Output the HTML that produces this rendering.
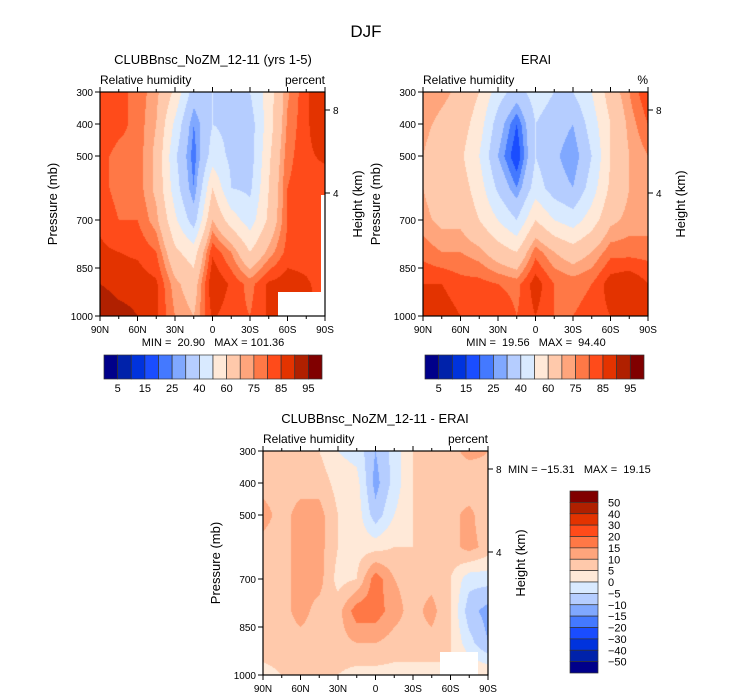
<!DOCTYPE html>
<html><head><meta charset="utf-8">
<style>
body{margin:0;background:#fff;}
#wrap{position:relative;width:733px;height:699px;overflow:hidden;font-family:"Liberation Sans",sans-serif;}
text{white-space:pre;}
</style></head>
<body><div id="wrap">
<svg id="svg" width="733" height="699" xmlns="http://www.w3.org/2000/svg"></svg>
</div>
<script>
// ===== data =====
const lats = [90,75,60,45,30,15,0,-15,-30,-45,-60,-75,-90];
const levels = [300,400,500,600,700,800,900,1000];
const modelRH = [
 [85,82,78,72,58,35,40,40,40,55,74,84,90],
 [85,82,78,70,48,25,40,38,35,55,76,84,90],
 [82,78,78,68,42,22,45,38,35,58,78,84,86],
 [82,78,78,68,45,25,60,40,38,60,80,84,82],
 [84,80,80,72,52,35,70,55,45,62,80,82,80],
 [86,85,84,80,62,55,84,75,60,72,82,82,80],
 [90,88,88,86,72,65,90,84,78,86,88,86,82],
 [95,92,90,86,75,70,86,82,80,86,88,86,86]];
const eraRH = [
 [75,72,68,60,45,35,45,40,40,50,65,75,85],
 [72,68,65,55,35,20,40,35,30,45,60,72,80],
 [70,65,62,50,30,15,40,32,25,40,60,70,75],
 [70,65,65,55,38,25,45,35,30,45,62,70,72],
 [72,68,68,60,50,40,60,50,45,55,68,72,72],
 [78,75,75,72,65,60,78,70,65,70,78,78,78],
 [85,85,82,82,80,78,88,80,78,80,88,90,85],
 [88,88,85,85,85,80,85,80,80,82,85,85,85]];
const diffRH = [
 [8,10,8,5,0,-2,-10,-3,5,8,8,12,10],
 [8,8,8,8,3,2,-12,-3,5,8,8,5,8],
 [12,8,12,12,5,3,-8,0,5,8,8,12,5],
 [8,8,12,12,5,3,3,5,5,8,8,12,8],
 [8,8,12,12,3,5,18,10,8,8,5,-3,-3],
 [8,8,12,8,8,18,18,12,8,12,5,-8,-12],
 [8,8,8,8,8,10,10,8,8,8,5,-3,-10],
 [3,5,5,5,5,3,3,3,3,3,5,5,5]];
const rhLevels = [5,10,15,20,25,30,40,50,60,70,75,80,85,90,95];
const diffLevels = [-50,-40,-30,-20,-15,-10,-5,0,5,10,15,20,30,40,50];
const rhTickLabels = ["5","15","25","40","60","75","85","95"];
const diffTickLabels = ["50","40","30","20","15","10","5","0","\u22125","\u221210","\u221215","\u221220","\u221230","\u221240","\u221250"];
const colors = ["#00008a","#0022aa","#0033dd","#1a4dff","#4479ff","#80a8ff","#b5cdff","#d9eaff","#ffe9d8","#ffc9ab","#ffa57c","#ff7846","#ff4b1a","#e33300","#b02000","#800000"];
const presTicks = [300,400,500,700,850,1000];
const latTicks = [90,60,30,0,-30,-60,-90];
const latNames = ["90N","60N","30N","0","30S","60S","90S"];

const svg = document.getElementById('svg');
const NS = 'http://www.w3.org/2000/svg';
function mk(tag, attrs, parent){const e=document.createElementNS(NS,tag);for(const k in attrs)e.setAttribute(k,attrs[k]);(parent||svg).appendChild(e);return e;}
function txt(x,y,s,size,anchor,name,rot){
  const t=mk('text',{x:x,y:y,'font-size':size,'text-anchor':anchor||'start',fill:'#000','font-family':'Liberation Sans, sans-serif'});
  if(rot) t.setAttribute('transform','rotate(-90 '+x+' '+y+')');
  t.textContent=s;
  
  
  return t;
}
function colorFor(v, lv){let i=0;while(i<lv.length && v>=lv[i]) i++;return colors[i];}

function panel(px,py,data,lv,name,mask,hasPct){
  const W=225,H=224;
  const xs = lat => px + (90-lat)/180*W;
  const ys = p => py + (p-300)/700*H;
  const g = mk('g',{});
  
  
  const fo = mk('foreignObject',{x:px,y:py,width:W,height:H},g);
  const cv = document.createElement('canvas'); cv.width=W; cv.height=H;
  
  
  fo.appendChild(cv);
  const ctx = cv.getContext('2d');
  for(let j=0;j<H;j++){
    const p = 300 + (j+0.5)/H*700;
    let r = 0; while(r<levels.length-2 && p>levels[r+1]) r++;
    const fy = (p-levels[r])/(levels[r+1]-levels[r]);
    for(let i=0;i<W;i++){
      const lat = 90 - (i+0.5)/W*180;
      let c = 0; while(c<lats.length-2 && lat<lats[c+1]) c++;
      const fx = (lats[c]-lat)/(lats[c]-lats[c+1]);
      const v = (data[r][c]*(1-fx)+data[r][c+1]*fx)*(1-fy)+(data[r+1][c]*(1-fx)+data[r+1][c+1]*fx)*fy;
      ctx.fillStyle = colorFor(v, lv);
      ctx.fillRect(i,j,1,1);
    }
  }
  if(mask){ for(const m of mask){ const r=mk('rect',{x:m[0],y:m[1],width:m[2],height:m[3],fill:'#fff'},g);   } }
  const fr = mk('rect',{x:px,y:py,width:W,height:H,fill:'none',stroke:'#000','stroke-width':1.2},g);
   
  presTicks.forEach(p=>{
    const y=ys(p);
    mk('line',{x1:px,x2:px-5,y1:y,y2:y,stroke:'#000'},g);
    txt(px-7,y+4,String(p),10,'end','pressure-tick-label');
  });
  latTicks.forEach((l,k)=>{
    const x=xs(l);
    mk('line',{x1:x,x2:x,y1:py+H,y2:py+H+5,stroke:'#000'},g);
    mk('line',{x1:x,x2:x,y1:py,y2:py-5,stroke:'#000'},g);
    txt(x,py+H+17,latNames[k],10,'middle','lat-tick-label');
  });
  for(let l=75;l>-90;l-=15){ if(l%30===0) continue; const x=xs(l); mk('line',{x1:x,x2:x,y1:py+H,y2:py+H+3,stroke:'#000'},g); mk('line',{x1:x,x2:x,y1:py,y2:py-3,stroke:'#000'},g);}
  [[8,py+18],[4,py+101]].forEach(h=>{ mk('line',{x1:px+W,x2:px+W+5,y1:h[1],y2:h[1],stroke:'#000'},g); txt(px+W+8,h[1]+4,String(h[0]),10,'start','height-tick-label');});
  txt(px-43,py+H/2,'Pressure (mb)',13,'middle','y-axis-title',true);
  txt(px+W+37,py+H/2,'Height (km)',13,'middle','right-axis-title',true);
  txt(px,py-8,'Relative humidity',12,'start','variable-label');
  txt(px+W,py-8,hasPct,12,'end','units-label');
}

panel(100,92,modelRH,rhLevels,'model-panel',[[278,292,48,25],[321,195,5,100]],'percent');
panel(423,92,eraRH,rhLevels,'erai-panel',null,'%');
panel(263,451,diffRH,diffLevels,'diff-panel',[[440,652,38,24]],'percent');

txt(366,37,'DJF',17,'middle','figure-title');
txt(213,64,'CLUBBnsc_NoZM_12-11 (yrs 1-5)',13,'middle','model-title');
txt(536,64,'ERAI',13,'middle','erai-title');
txt(375,423,'CLUBBnsc_NoZM_12-11 - ERAI',13,'middle','diff-title');
txt(213,346,'MIN =  20.90   MAX = 101.36',11,'middle','model-minmax');
txt(536,346,'MIN =  19.56   MAX =  94.40',11,'middle','erai-minmax');
txt(508,473,'MIN = \u221215.31   MAX =  19.15',11,'start','diff-minmax');

function hbar(x0,x1,y,name){
  const w=(x1-x0)/16;
  colors.forEach((c,i)=>{const r=mk('rect',{x:x0+i*w,y:y,width:w,height:24,fill:c,stroke:'#333','stroke-width':0.7});
     });
  rhTickLabels.forEach((s,k)=>txt(x0+(2*k+1)*w,y+37,s,11,'middle',name+'-label'));
}
hbar(104,322,355,'model-colorbar');
hbar(425,644,355,'erai-colorbar');
(function(){
  const x=570,y0=491,h=(673-491)/16;
  colors.slice().reverse().forEach((c,i)=>{const r=mk('rect',{x:x,y:y0+i*h,width:28,height:h,fill:c,stroke:'#333','stroke-width':0.7});
     });
  diffTickLabels.forEach((s,k)=>txt(608,y0+(k+1)*h+4,s,11,'start','diff-colorbar-label'));
})();
</script>
</body></html>
